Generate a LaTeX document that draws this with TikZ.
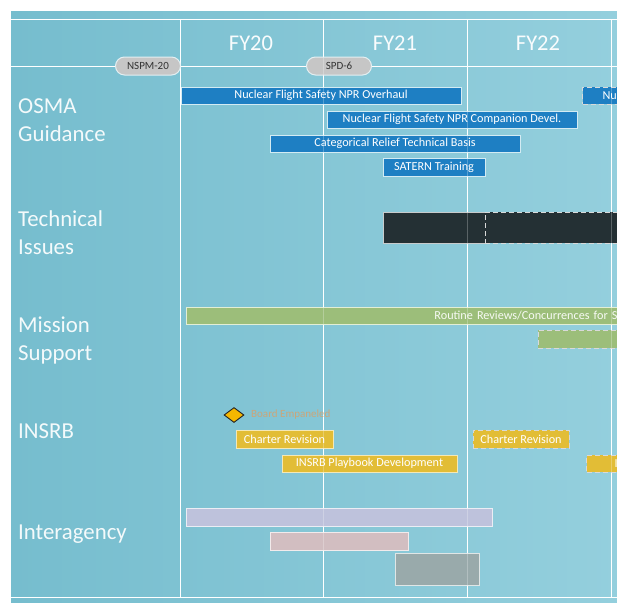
\documentclass[tikz,border=0pt]{standalone}
\usepackage{fontspec}
\setmainfont{Carlito}
\usetikzlibrary{shapes.geometric}

\definecolor{bgL}{HTML}{76BDCE}
\definecolor{bgR}{HTML}{94CFDD}
\definecolor{barblue}{HTML}{1E7FC3}
\definecolor{edgeblue}{HTML}{D3EBF3}
\definecolor{pillgray}{HTML}{C6C6C6}
\definecolor{pilledge}{HTML}{E3EFF2}
\definecolor{bardark}{HTML}{243034}
\definecolor{bargreen}{HTML}{9CBE7A}
\definecolor{edgegreen}{HTML}{E2EED5}
\definecolor{baryellow}{HTML}{E2BD36}
\definecolor{edgeyellow}{HTML}{F4E8B6}
\definecolor{barlav}{HTML}{BEC2DC}
\definecolor{barpink}{HTML}{D2BEC1}
\definecolor{bargray}{HTML}{99AAAB}
\definecolor{diagold}{HTML}{F5B700}
\definecolor{boardtxt}{HTML}{E49B5A}

% a bar given by its left, top, right and bottom edges
\newcommand\gbar[7]{\node[#2, minimum width={(#5-#3)*1pt}, minimum height={(#6-#4)*1pt}]
  (#1) at ({(#3+#5)/2},{(#4+#6)/2}) {#7};}

\tikzset{
  gridline/.style={white, line width=0.9pt},
  fylabel/.style={text=white!94!bgR, font=\fontsize{22.5}{26}\selectfont, anchor=base},
  rowlabel/.style={text=white!92!bgL, font=\fontsize{22.8}{28.5}\selectfont, anchor=base west,
    align=left, inner sep=0pt},
  barbase/.style={rectangle, inner sep=0pt, line width=1pt,
    font=\fontsize{12.2}{14}\selectfont, text=white},
  bluebar/.style={barbase, fill=barblue, draw=edgeblue},
  darkbar/.style={barbase, fill=bardark, draw=white!75!bardark, line width=0.8pt},
  greenbar/.style={barbase, fill=bargreen, draw=edgegreen, text=white!92!bargreen},
  yellowbar/.style={barbase, fill=baryellow, draw=edgeyellow},
  lavbar/.style={barbase, fill=barlav, draw=white!70!barlav},
  pinkbar/.style={barbase, fill=barpink, draw=white!70!barpink},
  graybar/.style={barbase, fill=bargray, draw=white!70!bargray},
  planned/.style={dashed, dash pattern=on 5pt off 3pt, draw=white!85!black},
  pill/.style={rectangle, rounded corners=9pt, fill=pillgray, draw=pilledge, line width=1pt,
    minimum width=65pt, minimum height=18pt, inner sep=0pt,
    font=\fontsize{11}{12}\selectfont, text=black!80},
}

\begin{document}
\begin{tikzpicture}[x=1pt,y=-1pt]
\useasboundingbox (0,0) rectangle (617,602);
\fill[white] (0,0) rectangle (617,602);

\begin{scope}
\clip (11,12) rectangle (617,602);
\shade[left color=bgL, right color=bgR] (11,12) rectangle (617,602);

% grid
\draw[gridline] (11,19) -- (617,19);
\draw[gridline] (11,66) -- (617,66);
\draw[gridline] (11,597) -- (617,597);
\foreach \gx in {180,323,467,611}
  \draw[gridline] (\gx,19) -- (\gx,597);

% fiscal years
\node[fylabel] (fy20) at (251,50) {FY20};
\node[fylabel] (fy21) at (395,50) {FY21};
\node[fylabel] (fy22) at (538,50) {FY22};

% milestones
\node[pill] (nspm) at (148,66) {NSPM-20};
\node[pill] (spd) at (339,66) {SPD-6};

% row labels (anchored at the baseline of their last line)
\node[rowlabel] (osma) at (18,141.5) {OSMA\\Guidance};
\node[rowlabel] (tech) at (18,254.5) {Technical\\Issues};
\node[rowlabel] (miss) at (18,360.5) {Mission\\Support};
\node[rowlabel] (insrb) at (18,438) {INSRB};
\node[rowlabel] (inter) at (18,539) {Interagency};

% OSMA guidance
\gbar{ovh}{bluebar}{181}{87}{461}{104}{Nuclear Flight Safety NPR Overhaul}
\gbar{comp}{bluebar}{327}{111}{577}{128}{Nuclear Flight Safety NPR Companion Devel.}
\gbar{crtb}{bluebar}{270}{135}{520}{152}{Categorical Relief Technical Basis}
\gbar{satern}{bluebar}{383}{158}{485}{176}{SATERN Training}
\node[bluebar, planned, anchor=west, minimum height=17pt, text width=40pt, inner xsep=20pt, align=left]
  (nu) at (582,95.5) {Nu};

% technical issues
\gbar{tech1}{darkbar}{383}{212}{485}{243}{}
\gbar{tech2}{darkbar, planned}{485}{212}{660}{243}{}

% mission support
\node[greenbar, anchor=west, minimum height=17pt, text width=428pt, inner xsep=3pt, align=right]
  (routine) at (186,315.5) {Routine Reviews/Concurrences for S};
\gbar{miss2}{greenbar, planned}{538}{330}{660}{348}{}

% INSRB
\node[diamond, fill=diagold, draw=black!85, line width=0.9pt, minimum width=20pt,
  minimum height=15pt, inner sep=0pt] (board) at (234,415) {};
\node[anchor=west, text=boardtxt, opacity=0.75, font=\fontsize{11}{12}\selectfont,
  inner sep=0pt] (boardlbl) at (251,415) {Board Empaneled};
\gbar{charter}{yellowbar}{236}{430}{333}{448}{Charter Revision}
\gbar{playbook}{yellowbar}{282}{455}{457}{472}{INSRB Playbook Development}
\gbar{charter2}{yellowbar, planned}{473}{430}{569}{448}{Charter Revision}
\node[yellowbar, planned, anchor=west, minimum height=17pt, text width=30pt, inner xsep=28pt, align=left]
  (insrb2) at (586,463.5) {I};

% interagency
\gbar{ia1}{lavbar}{186}{508}{492}{526}{}
\gbar{ia2}{pinkbar}{270}{532}{408}{550}{}
\gbar{ia3}{graybar}{395}{553}{479}{585}{}

% grid shows faintly through the bars
\foreach \gx in {180,323,467,611}
  \draw[gridline, opacity=0.25] (\gx,19) -- (\gx,597);
\end{scope}
\end{tikzpicture}
\end{document}
